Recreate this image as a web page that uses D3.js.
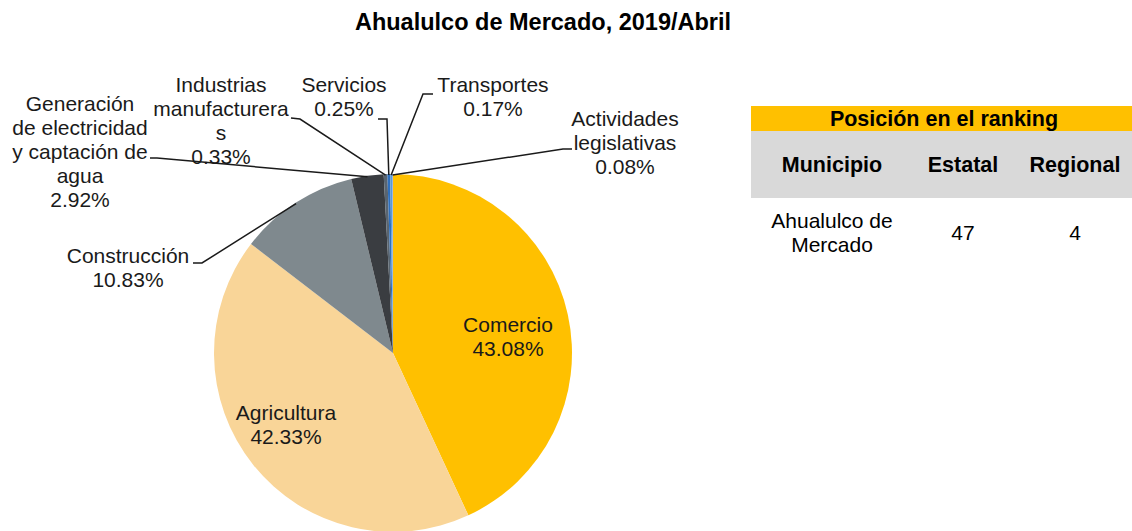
<!DOCTYPE html>
<html>
<head>
<meta charset="utf-8">
<script src="https://cdn.jsdelivr.net/npm/d3@7"></script>
<style>
  body { margin: 0; background: #fff; }
  svg { font-family: "Liberation Sans", Arial, sans-serif; }
</style>
</head>
<body>
<div id="chart"></div>
<script>
var title = "Ahualulco de Mercado, 2019/Abril";

// sectores y participación (%)
var sectors = ["Comercio", "Agricultura", "Construcción",
  "Generación de electricidad y captación de agua", "Industrias manufactureras",
  "Servicios", "Transportes", "Actividades legislativas"];
var shares = [43.08, 42.33, 10.83, 2.92, 0.33, 0.25, 0.17, 0.08];
var labelLines = [
  ["Comercio"], ["Agricultura"], ["Construcción"],
  ["Generación", "de electricidad", "y captación de", "agua"],
  ["Industrias", "manufacturera", "s"],
  ["Servicios"], ["Transportes"], ["Actividades", "legislativas"]
];
var colors = ["#ffc000", "#f9d598", "#7f898e", "#3a3d41", "#596570", "#2e6fbd", "#5b9bd5", "#8faadc"];

// tabla de ranking
var rankTitle = "Posición en el ranking";
var rankHeaders = ["Municipio", "Estatal", "Regional"];
var rankRow = [["Ahualulco de", "Mercado"], ["47"], ["4"]];

var width = 1132, height = 531;
var cx = 393, cy = 353, r = 179;
var lineH = 24;

// where each label block is centred (x, y of first line) and elbow of leader
var labelPos = [
  {x: 508, y: 332, inside: true},
  {x: 286, y: 420, inside: true},
  {x: 128, y: 263, elbow: [202, 263], stub: [193, 263]},
  {x: 80, y: 111, elbow: [157, 158], stub: [150, 158]},
  {x: 221, y: 92, elbow: [300, 119], stub: [291, 118]},
  {x: 344, y: 92, elbow: [387, 119], stub: [378, 119]},
  {x: 493, y: 92, elbow: [423, 94], stub: [433, 94]},
  {x: 625, y: 126, elbow: [563, 149], stub: [572, 149]}
];

var svg = d3.select("#chart").append("svg")
  .attr("width", width)
  .attr("height", height);

svg.append("text")
  .attr("x", 543).attr("y", 30)
  .attr("text-anchor", "middle")
  .style("font-size", "23.5px")
  .style("font-weight", "bold")
  .text(title);

var pie = d3.pie().sort(null)(shares);
var arc = d3.arc().innerRadius(0).outerRadius(r);
var edge = d3.arc().innerRadius(r - 1).outerRadius(r - 1);

var g = svg.append("g").attr("transform", "translate(" + cx + "," + cy + ")");

g.selectAll("path.slice").data(pie).enter().append("path")
  .attr("class", "slice")
  .attr("d", arc)
  .style("fill", function(d, i) { return colors[i]; });

// leader lines
pie.forEach(function(d, i) {
  var p = labelPos[i];
  if (p.inside) return;
  var e = edge.centroid(d);
  var pts = [p.stub, p.elbow, [cx + e[0], cy + e[1]]];
  svg.append("path")
    .attr("d", d3.line()(pts))
    .style("fill", "none")
    .style("stroke", "#1a1a1a")
    .style("stroke-width", 1.5);
});

// labels
pie.forEach(function(d, i) {
  var p = labelPos[i];
  var lines = labelLines[i].concat([shares[i].toFixed(2) + "%"]);
  var t = svg.append("text")
    .attr("text-anchor", "middle")
    .style("font-size", "21px")
    .style("fill", "#1a1a1a");
  lines.forEach(function(l, k) {
    t.append("tspan")
      .attr("x", p.x)
      .attr("y", p.y + k * lineH)
      .text(l);
  });
});

// ranking table
var tx = 751, tw = width - tx;
var colX = [832, 963, 1075];

svg.append("rect").attr("x", tx).attr("y", 106).attr("width", tw).attr("height", 25).style("fill", "#ffc000");
svg.append("rect").attr("x", tx).attr("y", 131).attr("width", tw).attr("height", 67).style("fill", "#d9d9d9");

svg.append("text")
  .attr("x", 944).attr("y", 126)
  .attr("text-anchor", "middle")
  .style("font-size", "21.5px").style("font-weight", "bold")
  .text(rankTitle);

svg.selectAll("text.hdr").data(rankHeaders).enter().append("text")
  .attr("class", "hdr")
  .attr("x", function(d, i) { return colX[i]; })
  .attr("y", 172)
  .attr("text-anchor", "middle")
  .style("font-size", "21.5px").style("font-weight", "bold")
  .text(function(d) { return d; });

rankRow.forEach(function(cell, i) {
  var t = svg.append("text").attr("text-anchor", "middle").style("font-size", "21px");
  var y0 = 240 - (cell.length - 1) * lineH / 2;
  cell.forEach(function(l, k) {
    t.append("tspan").attr("x", colX[i]).attr("y", y0 + k * lineH).text(l);
  });
});
</script>
</body>
</html>
